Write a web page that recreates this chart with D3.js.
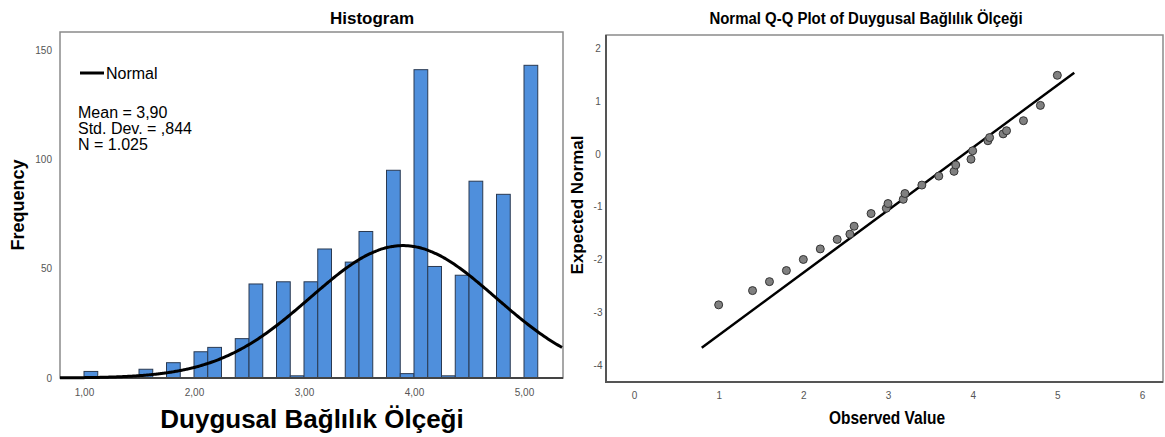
<!DOCTYPE html>
<html>

<head>
    <meta charset="utf-8">
    <style>
        body {
            margin: 0;
            background: #fff;
        }

        svg {
            display: block;
            font-family: Arial, 'Liberation Sans', sans-serif;
        }

        .tick text {
            font-size: 10px;
            fill: #555;
        }

        .tick line {
            display: none;
        }

        .domain {
            display: none;
        }
    </style>
</head>

<body>
    <svg width="1165" height="437"></svg>

    <script src="https://d3js.org/d3.v7.min.js"></script>

    <script>
        // histogram bins (lower edge) and counts
        let binStarts = [1.000, 1.375, 1.500, 1.750, 2.000, 2.125, 2.375, 2.500, 2.750, 2.875, 3.000, 3.125,
            3.375, 3.500, 3.750, 3.875, 4.000, 4.125, 4.250, 4.375, 4.500, 4.750, 5.000]
        let binCounts = [3, 1, 4, 7, 12, 14, 18, 43, 44, 1, 44, 59, 53, 67, 95, 2, 141, 51, 1, 47, 90, 84, 143]
        let binWidth = 0.125

        let histXTicks = [1, 2, 3, 4, 5]
        let histXLabels = ["1,00", "2,00", "3,00", "4,00", "5,00"]
        let histYTicks = [0, 50, 100, 150]

        // normal fit shown in legend
        let mean = 3.90
        let sd = 0.844
        let n = 1025
        let statLines = ["Mean = 3,90", "Std. Dev. = ,844", "N = 1.025"]

        // Q-Q plot points
        let qqObserved = [1.00, 1.40, 1.60, 1.80, 2.00, 2.20, 2.40, 2.55, 2.60, 2.80, 2.98, 3.00, 3.18, 3.20,
            3.40, 3.60, 3.78, 3.80, 3.98, 4.00, 4.18, 4.20, 4.36, 4.40, 4.60, 4.80, 5.00]
        let qqExpected = [-2.86, -2.59, -2.42, -2.21, -2.00, -1.80, -1.62, -1.52, -1.37, -1.13, -1.03, -0.94, -0.86, -0.75,
            -0.59, -0.42, -0.33, -0.21, -0.10, 0.06, 0.25, 0.31, 0.38, 0.44, 0.63, 0.92, 1.49]
        let qqLineX = [0.8, 5.2]
        let qqXTicks = [0, 1, 2, 3, 4, 5, 6]
        let qqYTicks = [-4, -3, -2, -1, 0, 1, 2]

        let svg = d3.select("svg")

        // ---------- histogram ----------
        let h = {left: 60, right: 563, top: 32, bottom: 378}

        let x = d3.scaleLinear()
            .domain([1, 5])
            .range([84, 524])

        let y = d3.scaleLinear()
            .domain([0, 150])
            .range([h.bottom, 50])

        let hist = svg.append("g").attr("class", "histogram")

        hist.append("rect")
            .attr("x", h.left)
            .attr("y", h.top)
            .attr("width", h.right - h.left)
            .attr("height", h.bottom - h.top)
            .attr("fill", "none")
            .attr("stroke", "#8a8a8a")
            .attr("stroke-width", 1.5)

        hist.selectAll(".bar")
            .data(binStarts)
            .join("rect")
            .attr("class", "bar")
            .attr("x", d => x(d))
            .attr("y", (d, i) => y(binCounts[i]))
            .attr("width", d => x(d + binWidth) - x(d))
            .attr("height", (d, i) => y(0) - y(binCounts[i]))
            .attr("fill", "#4f8fdc")
            .attr("stroke", "#2a3a52")
            .attr("stroke-width", 1)

        hist.append("line")
            .attr("x1", h.left)
            .attr("x2", h.right)
            .attr("y1", h.bottom)
            .attr("y2", h.bottom)
            .attr("stroke", "#444")
            .attr("stroke-width", 2)

        let xAxis = d3.axisBottom(x)
            .tickValues(histXTicks)
            .tickFormat((d, i) => histXLabels[i])
            .tickSize(0)
            .tickPadding(11)

        hist.append("g")
            .attr("transform", `translate(0, ${h.bottom})`)
            .call(xAxis)

        let yAxis = d3.axisLeft(y)
            .tickValues(histYTicks)
            .tickSize(0)
            .tickPadding(8)

        hist.append("g")
            .attr("transform", `translate(${h.left}, 0)`)
            .call(yAxis)

        let curveX = d3.range(h.left, h.right + 1, 2).map(px => x.invert(px))

        let density = v => n * binWidth * Math.exp(-0.5 * ((v - mean) / sd) ** 2) / (sd * Math.sqrt(2 * Math.PI))

        let curve = d3.line()
            .x(d => x(d))
            .y(d => y(density(d)))
            .curve(d3.curveBasis)

        hist.append("path")
            .attr("d", curve(curveX))
            .attr("fill", "none")
            .attr("stroke", "#000")
            .attr("stroke-width", 3)

        hist.append("line")
            .attr("x1", 80)
            .attr("x2", 104)
            .attr("y1", 73)
            .attr("y2", 73)
            .attr("stroke", "#000")
            .attr("stroke-width", 3)

        hist.append("text")
            .attr("x", 106)
            .attr("y", 79)
            .attr("font-size", 16)
            .text("Normal")

        hist.selectAll(".stat")
            .data(statLines)
            .join("text")
            .attr("class", "stat")
            .attr("x", 78)
            .attr("y", (d, i) => 118 + i * 16)
            .attr("font-size", 16)
            .text(d => d)

        hist.append("text")
            .attr("x", 372)
            .attr("y", 24)
            .attr("text-anchor", "middle")
            .attr("font-size", 17)
            .attr("font-weight", "bold")
            .text("Histogram")

        hist.append("text")
            .attr("transform", "translate(24, 205) rotate(-90)")
            .attr("text-anchor", "middle")
            .attr("font-size", 18)
            .attr("font-weight", "bold")
            .text("Frequency")

        hist.append("text")
            .attr("x", 312)
            .attr("y", 428)
            .attr("text-anchor", "middle")
            .attr("font-size", 26)
            .attr("font-weight", "bold")
            .text("Duygusal Bağlılık Ölçeği")

        // ---------- Q-Q plot ----------
        let q = {left: 606, right: 1163, top: 35, bottom: 382}

        let qx = d3.scaleLinear()
            .domain([0, 6])
            .range([634, 1142])

        let qy = d3.scaleLinear()
            .domain([-4, 2])
            .range([365, 48.4])

        let qq = svg.append("g").attr("class", "qq")

        qq.append("rect")
            .attr("x", q.left)
            .attr("y", q.top)
            .attr("width", q.right - q.left)
            .attr("height", q.bottom - q.top)
            .attr("fill", "none")
            .attr("stroke", "#8a8a8a")
            .attr("stroke-width", 1.5)

        qq.append("path")
            .attr("d", `M${q.left},${q.top}V${q.bottom}H${q.right}`)
            .attr("fill", "none")
            .attr("stroke", "#555")
            .attr("stroke-width", 2)

        let qxAxis = d3.axisBottom(qx)
            .tickValues(qqXTicks)
            .tickFormat(d => String(d))
            .tickSize(0)
            .tickPadding(10)

        qq.append("g")
            .attr("transform", `translate(0, ${q.bottom})`)
            .call(qxAxis)

        let qyAxis = d3.axisLeft(qy)
            .tickValues(qqYTicks)
            .tickFormat(d => String(d))
            .tickSize(0)
            .tickPadding(6)

        qq.append("g")
            .attr("transform", `translate(${q.left}, 0)`)
            .call(qyAxis)
            .selectAll("text")
            .attr("text-anchor", "middle")
            .attr("x", -8)

        qq.append("line")
            .attr("x1", qx(qqLineX[0]))
            .attr("y1", qy((qqLineX[0] - mean) / sd))
            .attr("x2", qx(qqLineX[1]))
            .attr("y2", qy((qqLineX[1] - mean) / sd))
            .attr("stroke", "#000")
            .attr("stroke-width", 2.5)

        qq.selectAll(".pt")
            .data(qqObserved)
            .join("circle")
            .attr("class", "pt")
            .attr("cx", d => qx(d))
            .attr("cy", (d, i) => qy(qqExpected[i]))
            .attr("r", 4)
            .attr("fill", "#808080")
            .attr("stroke", "#333")
            .attr("stroke-width", 1)

        // SPSS titles look condensed, squeeze them horizontally
        qq.append("text")
            .attr("transform", "translate(866, 24) scale(0.88, 1)")
            .attr("text-anchor", "middle")
            .attr("font-size", 17)
            .attr("font-weight", "bold")
            .text("Normal Q-Q Plot of Duygusal Bağlılık Ölçeği")

        qq.append("text")
            .attr("transform", "translate(583, 205) rotate(-90)")
            .attr("text-anchor", "middle")
            .attr("font-size", 17)
            .attr("font-weight", "bold")
            .text("Expected Normal")

        qq.append("text")
            .attr("transform", "translate(887, 424) scale(0.86, 1)")
            .attr("text-anchor", "middle")
            .attr("font-size", 18)
            .attr("font-weight", "bold")
            .text("Observed Value")
    </script>
</body>

</html>
